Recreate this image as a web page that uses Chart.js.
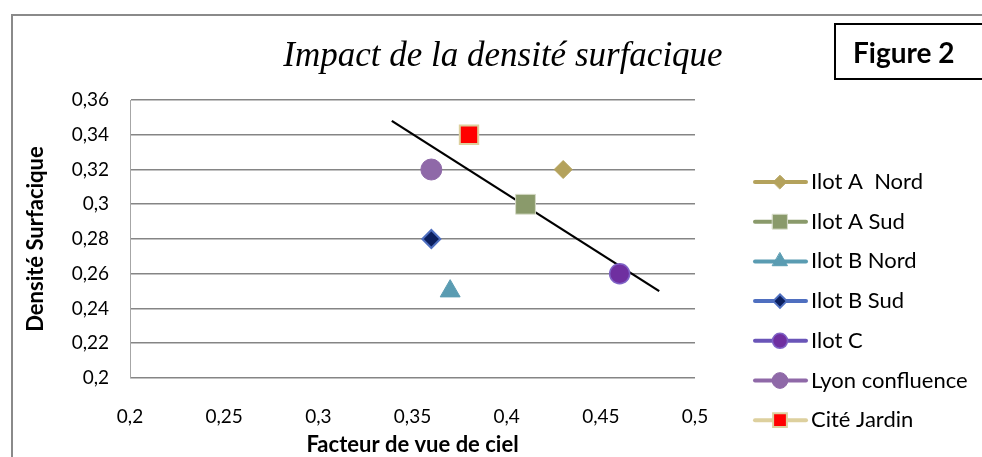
<!DOCTYPE html>
<html>
<head>
<meta charset="utf-8">
<script src="https://cdn.jsdelivr.net/npm/chart.js@4.4.1/dist/chart.umd.min.js"></script>
<style>
  body { margin: 0; background: #fff; }
  #wrap { position: relative; width: 982px; height: 457px; overflow: hidden; }
  #cadre { position: absolute; left: 11px; top: 14px; width: 1000px; height: 500px; border: 2px solid #8a8a8a; }
  #titre { position: absolute; left: 0; top: 35px; width: 1006px; text-align: center;
           font: italic 35px 'Liberation Serif'; line-height: 40px; color: #000; }
  #fig { position: absolute; left: 834px; top: 23px; width: 200px; height: 57px; border: 2px solid #000;
         font: bold 28px Lato; line-height: 55px; padding-left: 17px; box-sizing: border-box; color: #000; }
  canvas { position: absolute; left: 0; top: 0; }
</style>
</head>
<body>
<div id="wrap">
  <div id="cadre"></div>
  <canvas id="chart2" width="982" height="457"></canvas>
  <div id="titre">Impact de la densité surfacique</div>
  <div id="fig">Figure 2</div>
</div>
<script>
const series = ['Ilot A  Nord', 'Ilot A Sud', 'Ilot B Nord', 'Ilot B Sud', 'Ilot C', 'Lyon confluence', 'Cité Jardin'];
const vueDeCiel = [0.43, 0.41, 0.37, 0.36, 0.46, 0.36, 0.38];
const densite = [0.32, 0.30, 0.25, 0.28, 0.26, 0.32, 0.34];

// courbe de tendance (extrémités)
const tendanceX = [0.339, 0.481];
const tendanceY = [0.348, 0.250];

const ticksX = [0.2, 0.25, 0.3, 0.35, 0.4, 0.45, 0.5];
const ticksY = [0.2, 0.22, 0.24, 0.26, 0.28, 0.3, 0.32, 0.34, 0.36];

// styles Excel pour chaque série
const styles = [
  { forme: 'rectRot',  r: 9,    fond: '#b4a25c', bord: '#b4a25c', ep: 1,   ligne: '#b4a25c' },
  { forme: 'rect',     r: 14,   fond: '#8a9a6b', bord: '#d5dac6', ep: 1,   ligne: '#8a9a6b' },
  { forme: 'triangle', r: 11.5, fond: '#5a9cb2', bord: '#5a9cb2', ep: 1,   ligne: '#5a9cb2' },
  { forme: 'rectRot',  r: 9,    fond: '#0b1f5e', bord: '#4f6fc0', ep: 2,   ligne: '#4f6fc0' },
  { forme: 'circle',   r: 10,   fond: '#6f2fa0', bord: '#7f62c6', ep: 1.5, ligne: '#6a55b8' },
  { forme: 'circle',   r: 10.5, fond: '#8f69a8', bord: '#8f69a8', ep: 1,   ligne: '#8f69a8' },
  { forme: 'rect',     r: 13,   fond: '#ff0000', bord: '#ddd09e', ep: 2,   ligne: '#ddd09e' }
];

const virgule = v => String(Math.round(v * 100) / 100).replace('.', ',');

const datasets = series.map((nom, i) => ({
  label: nom,
  data: [{ x: vueDeCiel[i], y: densite[i] }],
  pointStyle: styles[i].forme,
  pointRadius: styles[i].r,
  backgroundColor: styles[i].fond,
  borderColor: styles[i].bord,
  borderWidth: styles[i].ep,
  ligneLegende: styles[i].ligne
}));

datasets.push({
  label: 'tendance',
  tendance: true,
  data: tendanceX.map((x, i) => ({ x: x, y: tendanceY[i] })),
  showLine: true,
  borderColor: '#000',
  borderWidth: 2.3,
  pointRadius: 0
});

// légende façon Excel : trait + marqueur
const legendeExcel = {
  id: 'legendeExcel',
  afterDraw(chart) {
    const ctx = chart.ctx;
    chart.data.datasets.forEach((ds, i) => {
      if (ds.tendance) return;
      const y = 182 + i * 39.7;
      ctx.save();
      ctx.strokeStyle = ds.ligneLegende;
      ctx.lineWidth = 4;
      ctx.lineCap = 'round';
      ctx.beginPath();
      ctx.moveTo(755, y);
      ctx.lineTo(806, y);
      ctx.stroke();
      ctx.fillStyle = ds.backgroundColor;
      ctx.strokeStyle = ds.borderColor;
      ctx.lineWidth = ds.borderWidth;
      Chart.helpers.drawPoint(ctx, { pointStyle: ds.pointStyle, radius: ds.pointRadius * 0.75, borderWidth: ds.borderWidth }, 780, y);
      ctx.fillStyle = '#000';
      ctx.font = '22px Lato';
      ctx.textBaseline = 'middle';
      ctx.fillText(ds.label, 811, y);
      ctx.restore();
    });
  }
};

const policeTicks = { family: 'Lato', size: 19 };
const policeTitre = { family: 'Lato', size: 22, weight: 'bold', lineHeight: 1.1 };

new Chart(document.getElementById('chart2'), {
  type: 'scatter',
  data: { datasets: datasets },
  plugins: [legendeExcel],
  options: {
    responsive: false,
    animation: false,
    layout: { padding: { left: 0, right: 287, top: 100, bottom: 0 } },
    plugins: {
      legend: { display: false },
      tooltip: { enabled: false }
    },
    scales: {
      x: {
        type: 'linear',
        min: 0.2,
        max: 0.5,
        afterBuildTicks: s => { s.ticks = ticksX.map(v => ({ value: v })); },
        afterFit: s => { s.height = 79; },
        grid: { display: false, drawTicks: false },
        border: { display: false },
        ticks: { padding: 27, font: policeTicks, color: '#000', callback: virgule },
        title: { display: true, text: 'Facteur de vue de ciel', font: policeTitre, color: '#000', padding: { top: 0, bottom: 0 } }
      },
      y: {
        min: 0.2,
        max: 0.36,
        afterBuildTicks: s => { s.ticks = ticksY.map(v => ({ value: v })); },
        afterFit: s => { s.width = 130; },
        grid: { color: '#858585', lineWidth: 1.6, drawTicks: false },
        border: { display: true, color: '#a6a6a6', width: 1 },
        ticks: { padding: 21, font: policeTicks, color: '#000', callback: virgule },
        title: { display: true, text: 'Densité Surfacique', font: policeTitre, color: '#000', padding: { top: 24, bottom: 0 } }
      }
    }
  }
});
</script>
</body>
</html>
